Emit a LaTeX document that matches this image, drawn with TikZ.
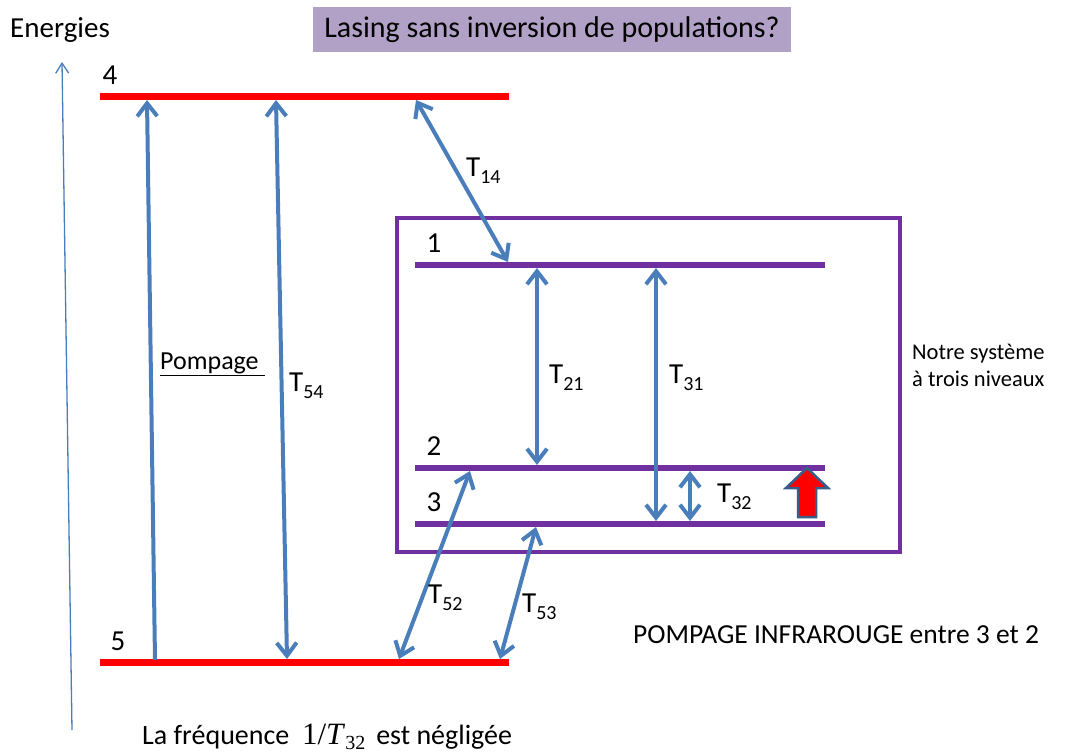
\documentclass[tikz,border=0pt]{standalone}
\usepackage{fontspec}
\setmainfont{Carlito}
\newfontfamily\formulafont{Liberation Serif}
\usepackage{xcolor}
\usetikzlibrary{arrows.meta, positioning}
\definecolor{transblue}{HTML}{4A7EBB}
\definecolor{syspurple}{HTML}{7030A0}
\definecolor{titlelilac}{HTML}{B2A1C7}
\definecolor{pumpedge}{HTML}{385D8A}
\newcommand{\rate}[1]{T\raisebox{-7pt}{\fontsize{20}{21}\selectfont #1}}
\tikzset{
    bigtext/.style={font=\fontsize{29}{33}\selectfont, inner sep=0pt},
    hotlevel/.style={line width=7pt, draw=red},
    syslevel/.style={line width=6.5pt, draw=syspurple},
    sysbox/.style={line width=3.5pt, draw=syspurple},
    transition/.style={line width=4pt, draw=transblue, {Straight Barb[length=13pt, width=20pt]}-{Straight Barb[length=13pt, width=20pt]}},
    pumping/.style={line width=4pt, draw=transblue, -{Straight Barb[length=13pt, width=20pt]}},
    ratelabel/.style={bigtext, anchor=base west},
    titlebox/.style={bigtext, font=\fontsize{30}{34}\selectfont, fill=titlelilac, minimum width=478pt, minimum height=45pt},
    irarrow/.style={fill=red, draw=pumpedge, line width=2.5pt, line join=miter}
}

\begin{document}
\begin{tikzpicture}[x=1pt, y=-1pt]
    \useasboundingbox (0,0) rectangle (1068,754);

    \node (energies) [bigtext, anchor=base west] at (10,38) {Energies};
    \node (title) [titlebox] at (552,29.5) {Lasing sans inversion de populations?};
    \coordinate (axisfoot) at (72,730);
    \coordinate (axishead) at (62,62);
    \draw [transblue, line width=1.3pt, -{Straight Barb[length=10pt, width=13pt]}] (axisfoot) -- (axishead);

    \coordinate (l4w) at (100,97);  \coordinate (l4e) at (509,97);
    \coordinate (l5w) at (100,662); \coordinate (l5e) at (509,662);
    \coordinate (l1w) at (415,265); \coordinate (l1e) at (825,265);
    \coordinate (l2w) at (415,468); \coordinate (l2e) at (825,468);
    \coordinate (l3w) at (415,524); \coordinate (l3e) at (825,524);

    \draw [sysbox] (397,218) rectangle (900,552);
    \draw [hotlevel] (l4w) -- (l4e);
    \draw [hotlevel] (l5w) -- (l5e);
    \draw [syslevel] (l1w) -- (l1e);
    \draw [syslevel] (l2w) -- (l2e);
    \draw [syslevel] (l3w) -- (l3e);

    \node (n4) [bigtext] at (110,75) {4};
    \node (n5) [bigtext] at (118,641) {5};
    \node (n1) [bigtext] at (434,243) {1};
    \node (n2) [bigtext] at (434,446) {2};
    \node (n3) [bigtext] at (434,502) {3};

    \coordinate (pump5) at (155,660);  \coordinate (pump4) at (147,100);
    \coordinate (t54lo) at (287,659);  \coordinate (t54hi) at (276,100);
    \coordinate (t14hi) at (416,100);  \coordinate (t14lo) at (508,262);
    \coordinate (t21hi) at (537,268);  \coordinate (t21lo) at (537,465);
    \coordinate (t31hi) at (656,268);  \coordinate (t31lo) at (656,521);
    \coordinate (t32hi) at (690,471);  \coordinate (t32lo) at (690,521);
    \coordinate (t52lo) at (399,659);  \coordinate (t52hi) at (470,471);
    \coordinate (t53lo) at (500,659);  \coordinate (t53hi) at (536,527);

    \draw [pumping] (pump5) -- (pump4);
    \draw [transition] (t54lo) -- (t54hi);
    \draw [transition] (t14hi) -- (t14lo);
    \draw [transition] (t21hi) -- (t21lo);
    \draw [transition] (t31hi) -- (t31lo);
    \draw [transition] (t32hi) -- (t32lo);
    \draw [transition] (t52lo) -- (t52hi);
    \draw [transition] (t53lo) -- (t53hi);

    \node (pompage) [bigtext, anchor=base west, font=\fontsize{26}{30}\selectfont] at (160,369) {\underline{Pompage~}};
    \node (r54) [ratelabel] at (289,391) {\rate{54}};
    \node (r14) [ratelabel] at (466,177) {\rate{14}};
    \node (r21) [ratelabel] at (549,383) {\rate{21}};
    \node (r31) [ratelabel] at (669,383) {\rate{31}};
    \node (r32) [ratelabel] at (717,502) {\rate{32}};
    \node (r52) [ratelabel] at (428,603) {\rate{52}};
    \node (r53) [ratelabel] at (522,612) {\rate{53}};

    \draw [irarrow] (798,517) -- (798,488) -- (786,488) -- (807,468) -- (828,488) -- (816,488) -- (816,517) -- cycle;

    \node (notre) [anchor=base west, inner sep=0pt, align=left, font=\fontsize{22.5}{27}\selectfont] at (912,386) {Notre système\\à trois niveaux};
    \node (infra) [bigtext, anchor=base west, font=\fontsize{27.5}{32}\selectfont] at (633,643) {POMPAGE INFRAROUGE entre 3 et 2};
    \node (negl) [bigtext, anchor=base west, font=\fontsize{28}{32}\selectfont] at (142,744)
        {La fréquence \ {\formulafont\fontsize{31}{34}\selectfont 1/\textit{T}\raisebox{-5pt}{\fontsize{20}{21}\selectfont 32}} \,est négligée};
\end{tikzpicture}
\end{document}
